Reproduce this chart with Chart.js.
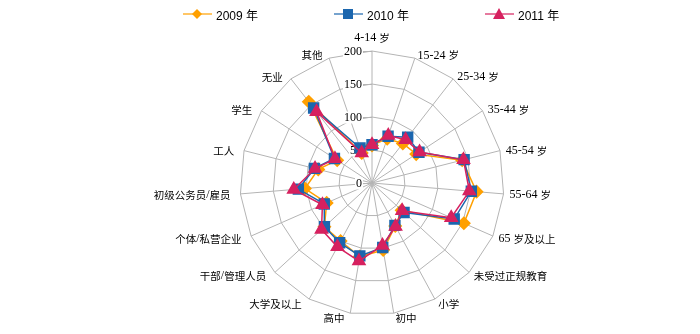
<!DOCTYPE html>
<html>
<head>
<meta charset="utf-8">
<script src="https://cdn.jsdelivr.net/npm/chart.js@4.4.0/dist/chart.umd.min.js"></script>
<style>
    html, body { margin: 0; padding: 0; background: #fff; }
    #wrap { position: relative; width: 700px; height: 334px; }
    #legend {
        position: absolute; left: 183px; top: 5px; display: flex;
        font: 12px 'Liberation Sans', 'Noto Sans CJK SC', sans-serif; color: #000;
    }
    .item { display: flex; align-items: center; width: 151px; height: 18px; }
    .item svg { margin-right: 4px; }
</style>
</head>
<body>
<div id="wrap">
    <canvas id="radarChart" width="700" height="334"></canvas>
    <div id="legend"></div>
</div>
<script>
// Datos del gráfico
const categories = ['4-14 岁', '15-24 岁', '25-34 岁', '35-44 岁', '45-54 岁', '55-64 岁', '65 岁及以上',
    '未受过正规教育', '小学', '初中', '高中', '大学及以上', '干部/管理人员', '个体/私营企业',
    '初级公务员/雇员', '工人', '学生', '无业', '其他'];
const seriesNames = ['2009 年', '2010 年', '2011 年'];
const values2009 = [57, 71, 76, 80, 141, 159, 152, 61, 74, 103, 113, 100, 98, 75, 102, 84, 63, 156, 48];
const values2010 = [58, 75, 88, 85, 144, 151, 136, 66, 73, 99, 112, 103, 98, 79, 112, 90, 68, 144, 56];
const values2011 = [58, 76, 83, 86, 143, 148, 131, 62, 75, 96, 120, 110, 104, 82, 119, 89, 67, 137, 48];
const tickValues = [0, 50, 100, 150, 200];

// Estilos de cada serie
const colors = ['#ffa000', '#1b66ae', '#d6215f'];
const markers = ['rectRot', 'rect', 'triangle'];
const markerSizes = [6, 7, 7];
const gridColor = '#b4b4b4';
const latinFont = "12px 'Liberation Serif', serif";
const cjkFont = "10.5px 'Noto Sans CJK SC', sans-serif";

// Leyenda en HTML (línea + marcador)
const legend = document.getElementById('legend');
seriesNames.forEach((name, i) => {
    const c = colors[i];
    let shape;
    if (markers[i] === 'rectRot') shape = `<polygon points="14,1 19,6 14,11 9,6" fill="${c}"/>`;
    else if (markers[i] === 'rect') shape = `<rect x="9" y="1" width="10" height="10" fill="${c}"/>`;
    else shape = `<polygon points="14,0 20,11 8,11" fill="${c}"/>`;
    legend.insertAdjacentHTML('beforeend',
        `<div class="item"><svg width="29" height="12"><line x1="0" y1="6" x2="29" y2="6" stroke="${c}" stroke-opacity="0.6" stroke-width="2"/>${shape}</svg>${name}</div>`);
});

// Texto mixto: latín y chino con fuentes distintas
function drawMixed(ctx, text, x, y, align) {
    const runs = text.match(/[\x00-\x7f]+|[^\x00-\x7f]+/g);
    const widths = runs.map(r => {
        ctx.font = /[^\x00-\x7f]/.test(r) ? cjkFont : latinFont;
        return ctx.measureText(r).width;
    });
    const total = widths.reduce((a, b) => a + b, 0);
    let cx = align === 'left' ? x : align === 'right' ? x - total : x - total / 2;
    runs.forEach((r, k) => {
        ctx.font = /[^\x00-\x7f]/.test(r) ? cjkFont : latinFont;
        ctx.fillText(r, cx, y);
        cx += widths[k];
    });
}

// Etiquetas de ejes y de ticks dibujadas a mano
const labelsPlugin = {
    id: 'labels',
    beforeDatasetsDraw(chart) {
        const s = chart.scales.r;
        const ctx = chart.ctx;
        const R = s.drawingArea;
        ctx.save();
        ctx.textAlign = 'left';
        ctx.textBaseline = 'middle';
        ctx.fillStyle = '#000';

        // Categorías alrededor del radar
        categories.forEach((label, i) => {
            const a = s.getIndexAngle(i);
            const sin = Math.sin(a), cos = Math.cos(a);
            if (Math.abs(sin) < 0.01) {
                drawMixed(ctx, label, s.xCenter, s.yCenter - R - 13, 'center');
                return;
            }
            const y = s.yCenter - (R + 4) * cos + 1;
            if (sin > 0) {
                drawMixed(ctx, label, s.xCenter + (R + 5) * sin + 1, y, 'left');
            } else {
                drawMixed(ctx, label, s.xCenter + (R + 5) * sin - 5, y, 'right');
            }
        });

        // Ticks del eje vertical
        ctx.font = latinFont;
        ctx.textAlign = 'right';
        tickValues.forEach(v => {
            const y = Math.round(s.yCenter - s.getDistanceFromCenterForValue(v)) + 0.5;
            const x = s.xCenter - 10;
            const label = String(v);
            const w = ctx.measureText(label).width;
            ctx.fillStyle = '#fff';
            ctx.fillRect(x - w - 1, y - 6, w + 2, 12);
            ctx.fillStyle = '#000';
            ctx.fillText(label, x, y);
            ctx.strokeStyle = gridColor;
            ctx.lineWidth = 1;
            ctx.beginPath();
            ctx.moveTo(s.xCenter - 9, y);
            ctx.lineTo(s.xCenter, y);
            ctx.stroke();
        });
        ctx.restore();
    }
};

const allValues = [values2009, values2010, values2011];

new Chart(document.getElementById('radarChart'), {
    type: 'radar',
    data: {
        labels: categories,
        datasets: allValues.map((vals, i) => ({
            label: seriesNames[i],
            data: vals,
            borderColor: colors[i],
            backgroundColor: colors[i],
            pointBackgroundColor: colors[i],
            pointBorderColor: colors[i],
            pointStyle: markers[i],
            pointRadius: markerSizes[i],
            borderWidth: 1.5,
            fill: false,
            order: 2 - i
        }))
    },
    options: {
        responsive: false,
        animation: false,
        layout: { padding: { left: 44, right: 0, top: 51, bottom: 19 } },
        plugins: {
            legend: { display: false },
            tooltip: { enabled: false }
        },
        scales: {
            r: {
                min: 0,
                max: 200,
                ticks: { display: false, stepSize: 50 },
                grid: { color: gridColor, lineWidth: 1 },
                angleLines: { color: gridColor, lineWidth: 1 },
                pointLabels: { display: false }
            }
        }
    },
    plugins: [labelsPlugin]
});
</script>
</body>
</html>
